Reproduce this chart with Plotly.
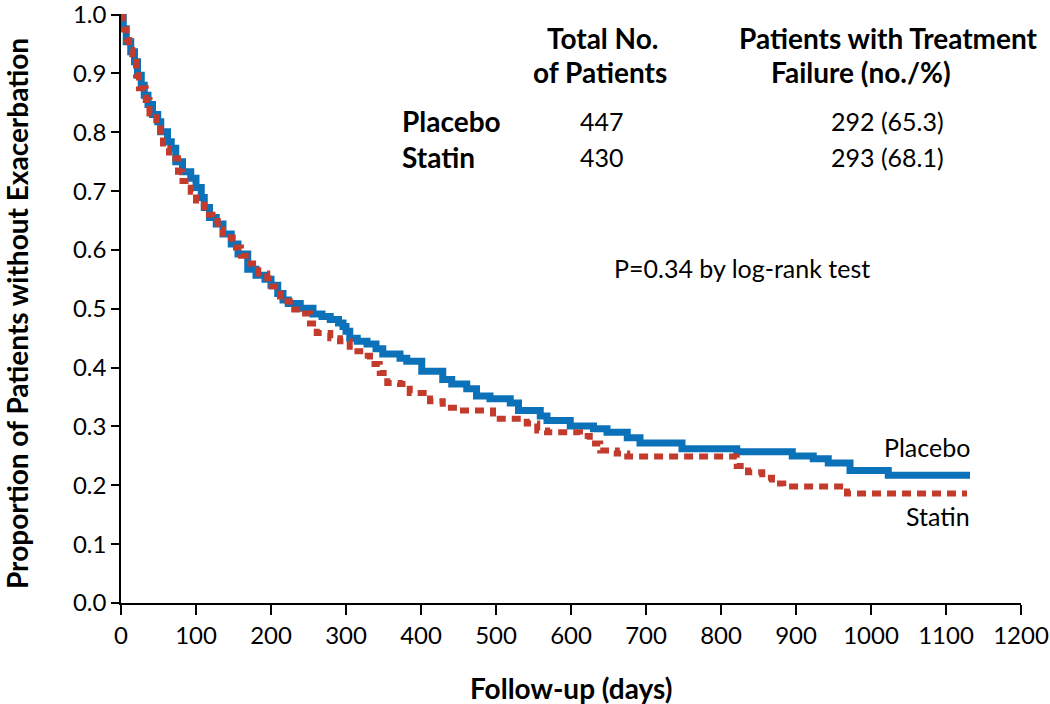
import plotly.graph_objects as go

# ---- data ----
placebo_days = [0, 3, 7, 13, 18, 22, 27, 31, 36, 42, 49, 53, 62, 67, 73, 82, 93, 100,
                107, 111, 118, 127, 136, 147, 156, 169, 180, 192, 200, 209, 216, 223,
                239, 256, 268, 279, 290, 296, 300, 305, 315, 328, 340, 349, 372, 381,
                401, 429, 441, 461, 474, 492, 519, 530, 559, 568, 599, 630, 648, 675,
                692, 748, 821, 895, 923, 943, 972, 1023, 1132]
placebo_surv = [1.0, 0.976, 0.954, 0.937, 0.92, 0.897, 0.88, 0.863, 0.847, 0.83, 0.818,
                0.801, 0.784, 0.773, 0.75, 0.733, 0.722, 0.706, 0.689, 0.672, 0.655,
                0.644, 0.627, 0.61, 0.593, 0.567, 0.557, 0.55, 0.54, 0.526, 0.515,
                0.509, 0.501, 0.491, 0.487, 0.482, 0.476, 0.47, 0.462, 0.45, 0.445,
                0.44, 0.432, 0.423, 0.416, 0.411, 0.394, 0.38, 0.372, 0.364, 0.352,
                0.347, 0.34, 0.327, 0.318, 0.31, 0.301, 0.296, 0.29, 0.281, 0.272,
                0.262, 0.257, 0.25, 0.245, 0.238, 0.225, 0.217, 0.217]

statin_days = [0, 3, 7, 11, 15, 20, 24, 33, 38, 47, 52, 56, 64, 76, 82, 93, 100, 111,
               122, 129, 136, 149, 160, 172, 183, 195, 201, 212, 225, 239, 252, 261,
               279, 292, 305, 319, 332, 345, 355, 372, 385, 412, 429, 448, 496, 541,
               555, 568, 612, 625, 639, 661, 675, 803, 821, 836, 855, 868, 883, 968,
               1128]
statin_surv = [1.0, 0.975, 0.957, 0.94, 0.92, 0.897, 0.875, 0.855, 0.832, 0.813, 0.795,
               0.773, 0.756, 0.733, 0.717, 0.699, 0.677, 0.66, 0.649, 0.635, 0.621,
               0.604, 0.59, 0.577, 0.56, 0.552, 0.538, 0.513, 0.499, 0.492, 0.475,
               0.459, 0.45, 0.445, 0.428, 0.42, 0.406, 0.391, 0.374, 0.372, 0.357,
               0.343, 0.332, 0.327, 0.313, 0.305, 0.293, 0.29, 0.284, 0.271, 0.259,
               0.254, 0.249, 0.249, 0.233, 0.222, 0.213, 0.203, 0.198, 0.186, 0.186]

groups = ["Placebo", "Statin"]
total_patients = ["447", "430"]
failures = ["292 (65.3)", "293 (68.1)"]
p_text = "P=0.34 by log-rank test"

x_ticks = list(range(0, 1201, 100))
y_ticks = [round(i / 10, 1) for i in range(11)]

BLUE = "#0b72b9"
RED = "#c33b2c"
FONT = "Lato"

# plot area in pixels
L, R, T, B = 121, 1021, 14, 603


def px(xp, yp):
    return (xp - L) / (R - L), (B - yp) / (B - T)


fig = go.Figure()
fig.add_trace(go.Scatter(x=placebo_days, y=placebo_surv, mode="lines", line_shape="hv",
                         line=dict(color=BLUE, width=7), name="Placebo",
                         showlegend=False))
fig.add_trace(go.Scatter(x=statin_days, y=statin_surv, mode="lines", line_shape="hv",
                         line=dict(color=RED, width=6, dash="9px,6px"), name="Statin",
                         showlegend=False))

ann = []


def add(text, xp, yp, size=26, bold=False, xanchor="center", angle=0):
    x, y = px(xp, yp)
    ann.append(dict(text=("<b>%s</b>" % text) if bold else text, x=x, y=y,
                    xref="paper", yref="paper", xanchor=xanchor, yanchor="middle",
                    showarrow=False, textangle=angle,
                    font=dict(family=FONT, size=size, color="black")))


add("Total No.", 603, 38, 28, True)
add("of Patients", 600, 72, 28, True)
add("Patients with Treatment", 888, 38, 28, True)
add("Failure (no./%)", 861, 72, 28, True)
add(groups[0], 400, 121, 28, True, "left")
add(groups[1], 400, 157, 28, True, "left")
add(total_patients[0], 602, 121, 25)
add(total_patients[1], 602, 157, 25)
add(failures[0], 887, 121, 25)
add(failures[1], 887, 157, 25)
add(p_text, 742, 268, 25)
add(groups[0], 972, 447, 25, False, "right")
add(groups[1], 972, 516, 25, False, "right")
add("Proportion of Patients without Exacerbation", 17, 314, 28, True, "center", -90)
add("Follow-up (days)", 571, 688, 28, True)

fig.update_layout(
    width=1050, height=704,
    margin=dict(l=L, r=1050 - R, t=T, b=704 - B),
    paper_bgcolor="white", plot_bgcolor="white",
    font=dict(family=FONT, size=24, color="black"),
    annotations=ann,
    xaxis=dict(range=[0, 1200], tickvals=x_ticks, ticks="outside", ticklen=10,
               tickwidth=1.5, tickcolor="black", showline=True, linecolor="black",
               linewidth=1.5, showgrid=False, zeroline=False, automargin=False,
               ticklabeloverflow="allow",
               tickfont=dict(family=FONT, size=24)),
    yaxis=dict(range=[0, 1.001], tickvals=y_ticks, tickformat=".1f", ticks="outside",
               ticklen=8, tickwidth=1.5, tickcolor="black", showline=True,
               linecolor="black", linewidth=1.5, showgrid=False, zeroline=False,
               automargin=False, ticklabeloverflow="allow",
               tickfont=dict(family=FONT, size=24)),
)

fig.write_html("out.html",
               config={"displayModeBar": False},
               post_script="document.body.style.margin='0';"
                           "document.body.style.overflow='hidden';")
